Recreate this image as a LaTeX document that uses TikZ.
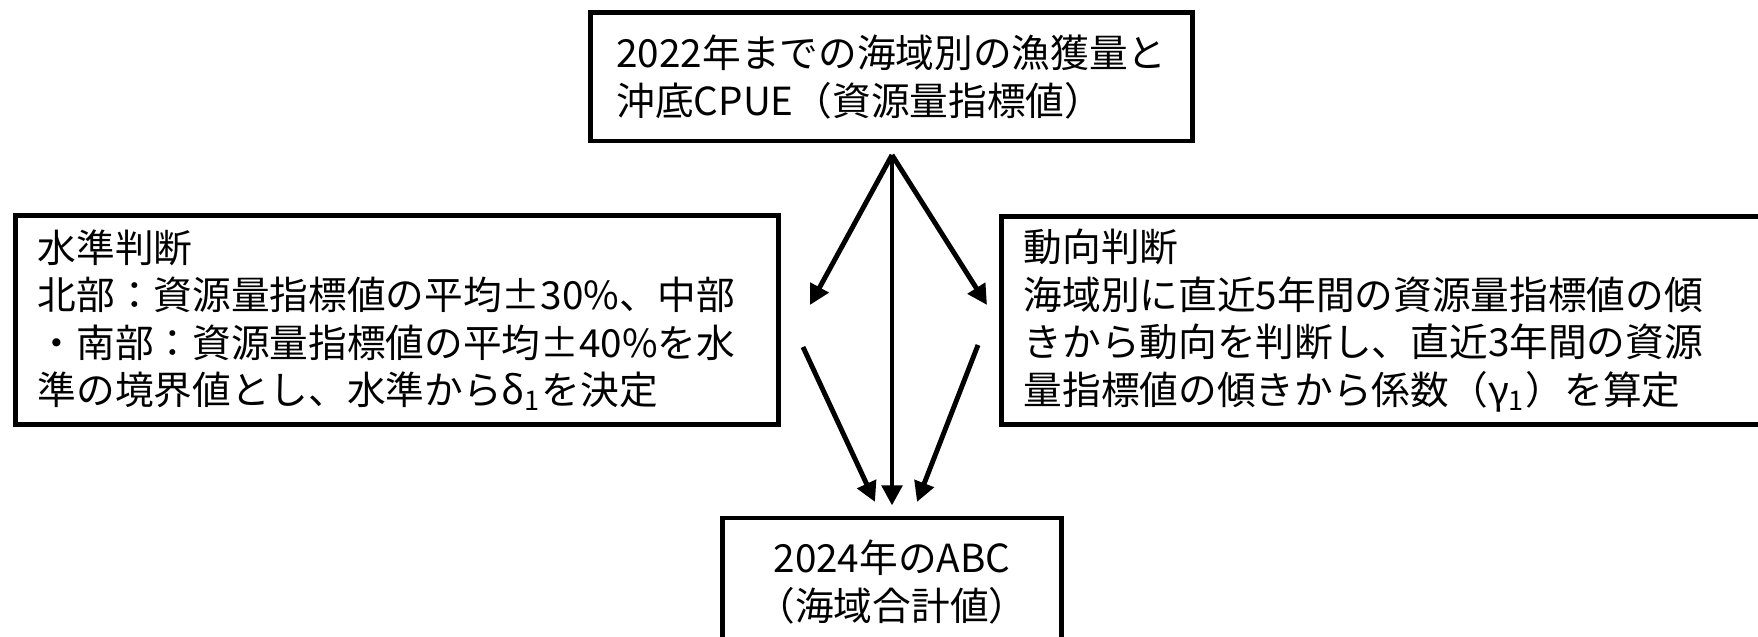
\documentclass[tikz,border=0pt]{standalone}
\usepackage{fontspec}
\setmainfont{Noto Sans CJK JP}
\usetikzlibrary{arrows.meta}

\begin{document}
\begin{tikzpicture}[x=0.01cm, y=-0.01cm,
  box/.style={draw, line width=1.4pt, inner sep=0pt, font=\fontsize{11pt}{13.5pt}\selectfont},
  side/.style={box, text width=7.18cm, minimum width=7.62cm, minimum height=2.08cm, align=left},
  flow/.style={line width=1.4pt, -{Triangle[length=2mm, width=2mm]}}]
  \useasboundingbox (0,0) rectangle (1758,637);
  \node[box, minimum width=6.01cm, minimum height=1.28cm, align=left] (src) at (891.5,77) {2022年までの海域別の漁獲量と\\沖底CPUE（資源量指標値）};
  \node[side] (lvl) at (397,320) {水準判断\\北部：資源量指標値の平均±30\%、中部\\・南部：資源量指標値の平均±40\%を水\\準の境界値とし、水準からδ\textsubscript{1}を決定};
  \node[side] (trd) at (1383,320.5) {動向判断\\海域別に直近5年間の資源量指標値の傾\\きから動向を判断し、直近3年間の資源\\量指標値の傾きから係数（γ\textsubscript{1}）を算定};
  \node[box, minimum width=3.38cm, minimum height=1.28cm, align=center] (abc) at (892,582) {2024年のABC\\（海域合計値）};
  \coordinate (fork) at (892,155);
  \coordinate (lvl in) at (810,305);
  \coordinate (trd in) at (987,305);
  \coordinate (lvl out) at (803,347);
  \coordinate (trd out) at (978,345);
  \coordinate (abc l) at (875,502);
  \coordinate (abc r) at (917,502);
  \draw[flow] (fork) -- (lvl in);
  \draw[flow] (fork) -- (trd in);
  \draw[flow, shorten >=0.1cm] (fork) -- (abc.north);
  \draw[flow] (lvl out) -- (abc l);
  \draw[flow] (trd out) -- (abc r);
\end{tikzpicture}
\end{document}
